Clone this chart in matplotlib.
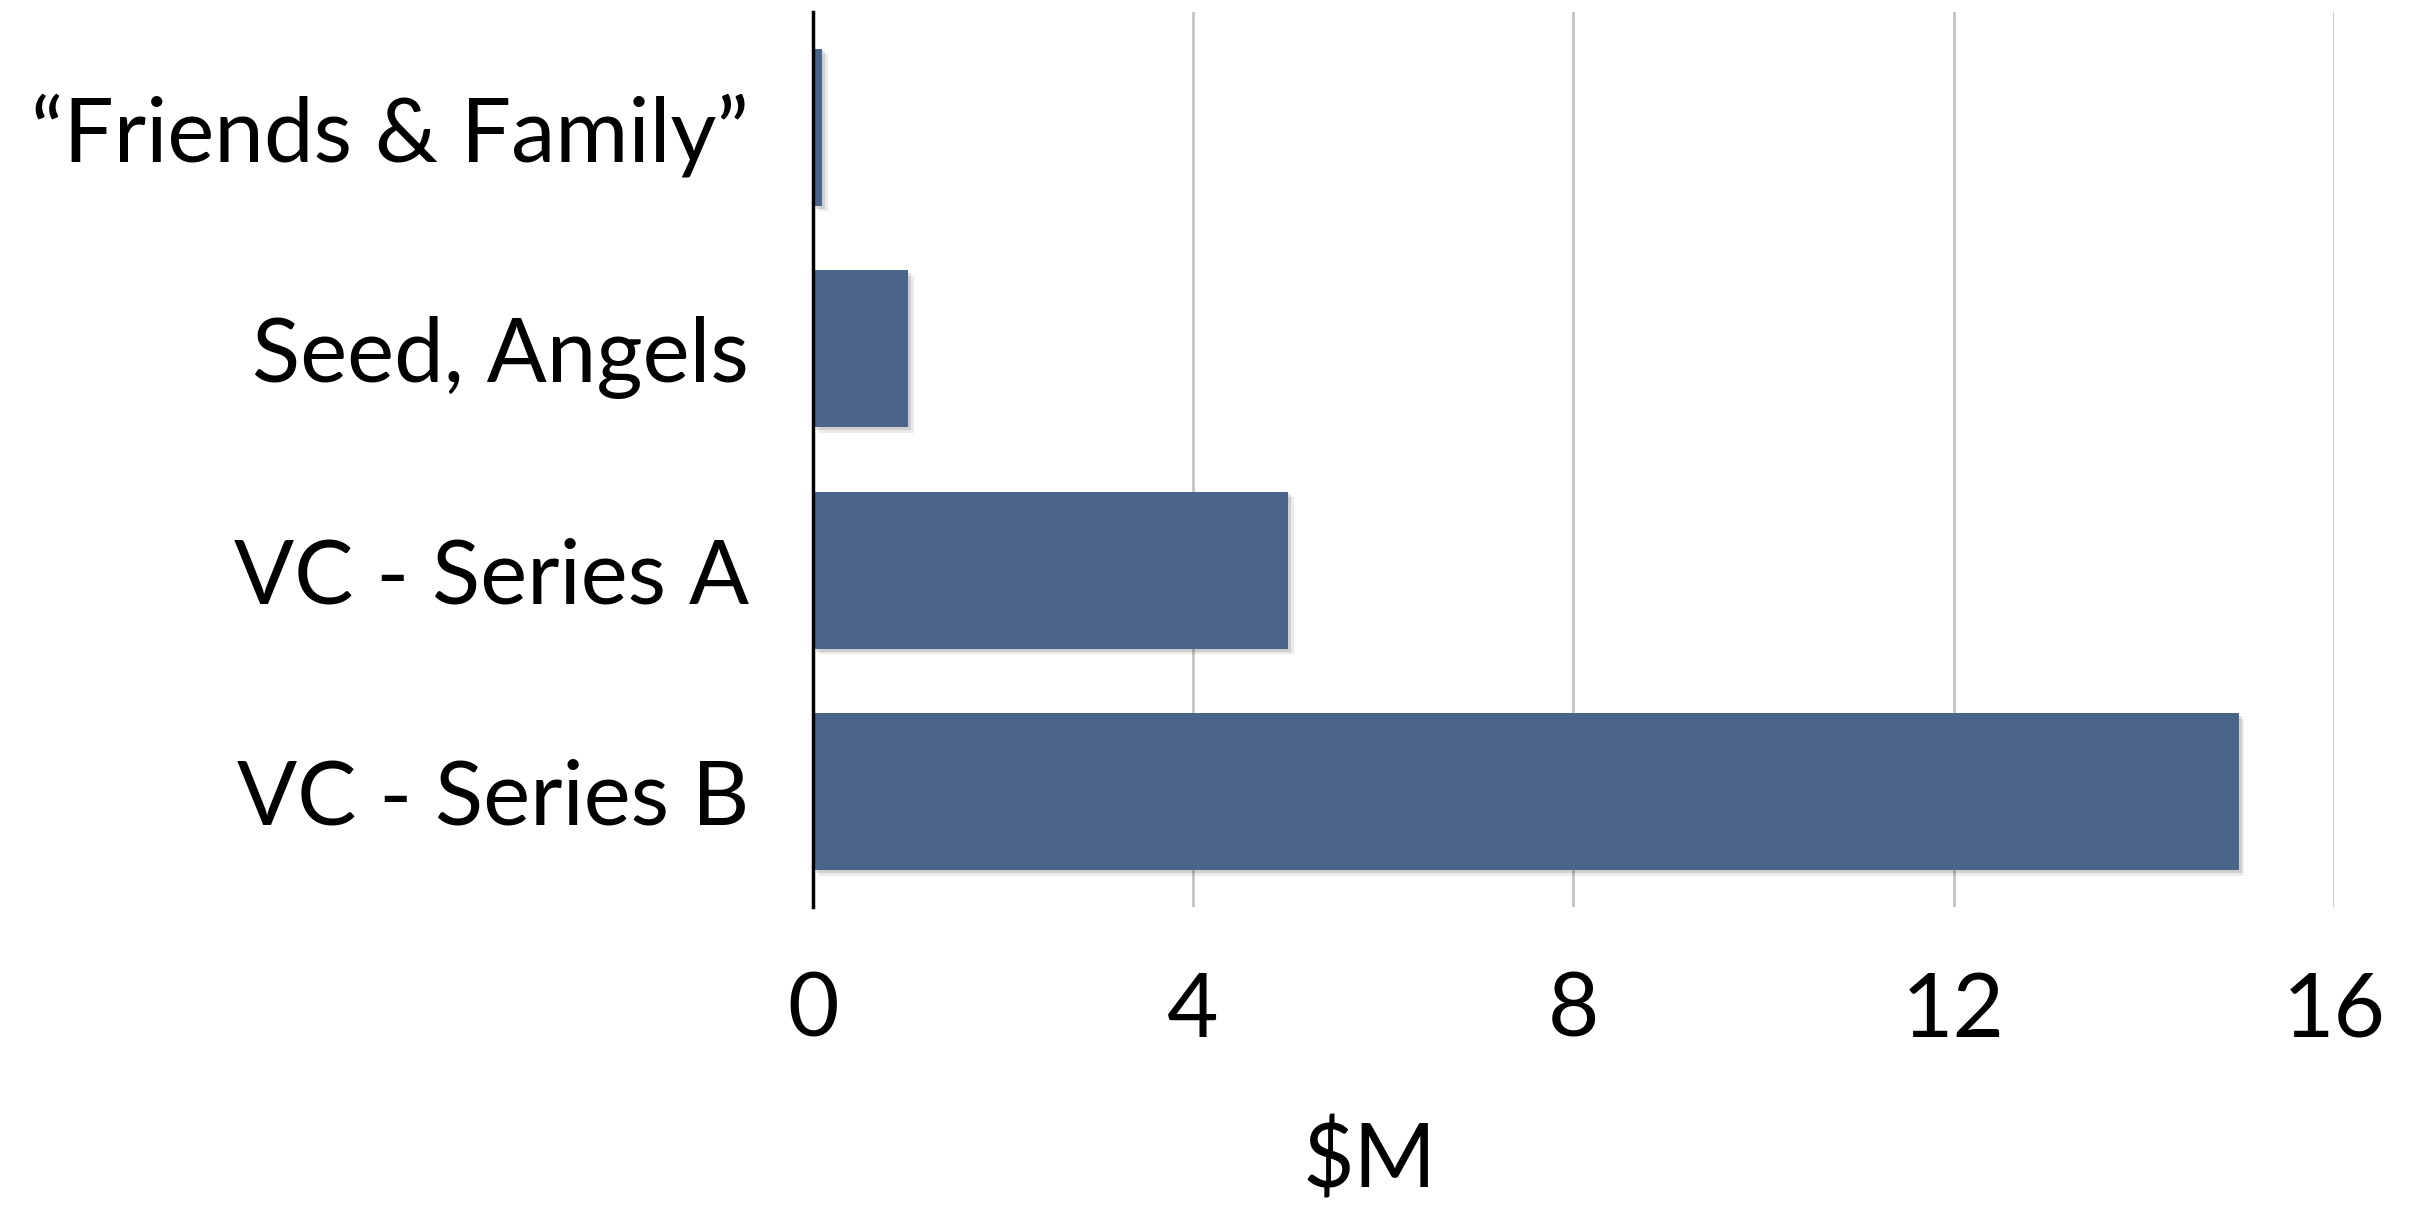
import matplotlib
matplotlib.use("Agg")
import matplotlib.pyplot as plt
import matplotlib.patheffects as pe

categories = ["\u201cFriends & Family\u201d", "Seed, Angels", "VC - Series A", "VC - Series B"]
values = [0.1, 1.0, 5.0, 15.0]
xticks = [0, 4, 8, 12, 16]
xlabel = "$M"

plt.rcParams['font.family'] = ['Lato', 'DejaVu Sans']

fig = plt.figure(figsize=(24.11, 12.05), dpi=100)
ax = fig.add_axes([0.3372, 0.2473, 0.968 - 0.3372, 0.990 - 0.2473])

ypos = list(range(len(categories)))
shadow = [pe.SimplePatchShadow(offset=(4, -4), shadow_rgbFace="#000000", alpha=0.08),
          pe.SimplePatchShadow(offset=(2, -2), shadow_rgbFace="#000000", alpha=0.12),
          pe.Normal()]
ax.barh(ypos, values, height=0.71, color="#4b6489", zorder=3, path_effects=shadow)

ax.set_xlim(0, 16)
ax.set_ylim(3.52, -0.52)
ax.set_yticks(ypos)
ax.set_yticklabels(categories, fontsize=64)
ax.set_xticks(xticks)
ax.set_xticklabels([str(t) for t in xticks], fontsize=64)
ax.tick_params(axis='both', length=0)
ax.tick_params(axis='y', pad=46)
ax.tick_params(axis='x', pad=46)

for t in xticks[1:]:
    ax.axvline(t, color="#c4c4c4", lw=2, zorder=1)

for s in ["top", "right", "bottom"]:
    ax.spines[s].set_visible(False)
ax.spines["left"].set_linewidth(2.5)
ax.spines["left"].set_color("black")
ax.spines["left"].set_zorder(4)

fig.text(1370 / 2411, 1 - 1161 / 1205, xlabel, fontsize=64, ha="center", va="center")

fig.savefig("out.png", dpi=100, facecolor="white")
